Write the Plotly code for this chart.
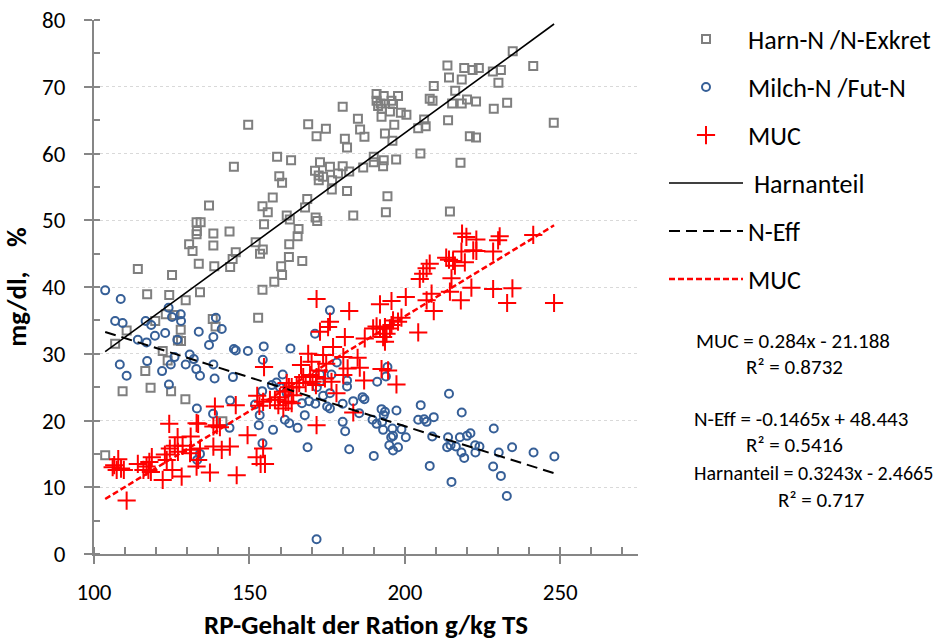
import plotly.graph_objects as go

# ---------------- data ----------------
harn_x = [103.6,106.8,110.5,109.2,114.1,116.5,117.1,118.2,119.7,122.1,
          123.1,123.7,124.2,124.8,125.1,125.9,127.0,128.0,127.9,129.5,
          129.4,130.6,131.7,133.0,134.3,133.1,133.0,133.7,134.1,137.0,
          138.2,139.1,138.4,138.4,138.7,141.3,143.6,143.8,144.6,145.0,
          145.6,149.6,152.0,152.8,153.4,154.3,154.2,154.2,154.7,155.9,
          157.5,158.0,158.9,159.6,160.2,160.5,160.5,162.0,162.8,162.7,
          163.0,163.4,165.5,165.8,167.0,167.9,168.6,168.9,171.1,171.6,
          171.3,171.8,172.3,172.7,173.7,174.6,172.3,176.6,175.9,176.5,
          178.5,180.0,180.0,180.7,181.4,181.4,182.1,183.4,184.9,185.6,
          186.6,187.0,190.0,190.0,190.9,190.9,191.4,192.2,192.6,192.5,
          193.2,193.2,193.0,193.6,193.9,194.4,195.2,195.7,196.2,196.0,
          196.6,197.2,197.8,198.7,200.5,204.3,205.0,206.2,206.7,208.0,
          208.9,209.3,213.7,213.9,214.2,214.5,215.2,216.2,217.9,218.3,
          218.3,219.1,220.0,220.9,221.8,222.9,222.9,223.8,228.3,228.6,
          230.1,230.9,232.9,234.7,241.3,247.9]
harn_y = [14.8,31.5,33.5,24.4,42.7,27.4,38.9,24.9,34.9,30.4,
          35.9,29.0,38.8,24.4,41.8,35.8,32.0,31.9,33.6,38.0,
          23.2,46.4,45.4,49.7,49.7,48.4,47.9,43.5,39.2,52.2,
          35.2,34.1,48.0,46.2,43.1,19.9,48.3,43.0,44.2,58.0,
          45.2,64.3,46.7,35.4,45.0,45.6,52.1,39.6,49.4,51.2,
          53.4,40.8,59.5,56.6,43.1,55.6,41.8,50.7,46.4,44.5,
          50.1,59.0,47.6,48.7,43.9,51.9,53.2,64.4,57.4,62.6,
          50.4,49.9,56.7,58.7,56.5,63.7,56.0,56.0,58.0,54.6,
          57.0,67.0,58.1,62.2,60.9,54.4,57.3,50.7,65.2,63.6,
          57.9,62.5,59.5,58.7,68.9,67.9,67.1,67.5,66.7,65.5,
          68.6,59.0,58.1,63.0,51.2,53.6,66.3,67.9,67.4,61.9,
          64.3,59.1,68.6,66.1,65.8,63.8,60.0,65.1,64.1,68.2,
          67.9,70.1,73.2,65.0,71.4,51.3,67.5,69.4,58.6,71.1,
          67.5,72.8,68.1,62.6,72.5,67.8,62.4,72.8,72.3,66.7,
          70.6,72.5,67.6,75.3,73.1,64.6]

milch_x = [103.6,108.6,106.8,109.2,116.6,118.4,124.0,125.1,127.9,128.0,
           122.9,119.6,114.1,116.9,126.8,133.7,137.0,138.4,139.2,141.1,
           145.0,145.6,149.5,154.6,163.2,130.8,132.1,125.9,124.7,108.3,
           110.5,117.1,121.9,129.5,132.9,134.1,138.4,138.8,144.7,154.3,
           124.1,133.1,138.3,143.8,143.6,153.0,153.3,157.6,154.2,134.1,
           133.2,168.7,151.8,154.1,157.2,158.7,160.7,159.8,162.0,161.4,
           162.8,165.5,167.8,166.9,169.2,171.2,173.7,175.0,171.7,171.1,
           175.9,172.7,171.6,178.1,176.4,181.4,181.4,175.9,175.9,180.0,
           183.4,186.4,187.0,185.3,180.0,180.8,182.1,191.1,193.9,194.4,
           192.5,193.6,193.2,197.3,189.6,190.9,192.7,193.0,196.0,196.2,
           195.6,198.9,200.3,195.0,196.2,197.8,190.0,205.1,204.3,206.2,
           207.0,209.3,208.8,208.0,214.2,218.3,213.9,213.6,214.7,216.4,
           217.7,220.0,221.1,218.2,219.1,222.6,224.0,222.7,215.0,228.6,
           230.2,234.5,228.4,230.9,232.8,241.4,248.1,172.7]
milch_y = [39.5,38.2,34.9,34.6,34.9,34.3,36.9,35.5,35.9,34.9,
           33.1,32.7,32.1,31.7,32.1,33.3,31.3,32.5,35.4,33.7,
           30.7,30.5,30.4,31.1,30.8,29.9,29.2,29.5,28.4,28.4,
           26.7,28.9,27.4,28.4,27.7,26.7,28.4,26.3,26.5,29.1,
           25.4,21.8,21.0,23.0,18.9,19.3,20.8,18.6,16.6,15.0,
           14.1,16.0,22.4,24.4,25.3,25.7,26.9,25.0,24.1,20.1,
           19.6,18.9,20.8,22.6,22.9,22.5,23.7,22.1,25.0,33.0,
           36.5,26.9,2.2,28.7,26.9,26.0,25.1,24.1,21.8,22.5,
           22.9,23.5,23.2,21.1,19.8,18.4,15.7,25.8,26.6,28.0,
           21.7,21.3,20.8,21.5,20.1,19.5,19.8,18.6,18.8,17.7,
           17.5,18.7,17.5,16.3,15.5,16.0,14.7,22.3,20.1,20.2,
           19.8,20.5,17.6,13.2,24.0,21.2,17.5,16.0,16.3,16.1,
           17.5,17.7,18.1,15.2,14.4,16.3,16.1,15.2,10.8,18.8,
           15.2,16.0,13.1,11.7,8.7,15.2,14.6,25.8]

muc_x = [106.0,106.5,107.8,107.3,109.6,108.7,110.5,114.1,116.9,118.6,
         117.8,115.9,117.5,118.3,122.1,124.2,126.9,126.0,128.5,131.1,
         133.0,133.5,131.2,134.1,124.4,127.0,130.9,122.8,123.4,125.2,
         128.2,133.0,133.5,137.3,138.9,139.5,138.4,140.5,138.4,141.1,
         143.7,145.6,145.9,149.4,152.5,153.2,154.4,154.7,152.3,153.6,
         154.4,155.0,158.2,159.8,161.4,161.7,159.3,160.9,162.7,164.1,
         165.2,166.0,167.3,166.6,168.9,168.1,169.5,170.3,170.0,172.3,
         171.4,172.7,173.7,175.3,171.6,171.6,175.9,174.7,171.6,174.3,
         156.6,162.5,163.6,163.6,162.0,176.9,180.7,182.1,187.1,180.2,
         184.8,181.6,185.5,186.9,180.2,178.0,176.4,192.5,194.6,197.3,
         183.4,189.8,190.9,192.0,193.6,195.2,195.7,196.2,197.8,198.9,
         194.1,193.0,193.6,192.0,195.7,200.3,204.3,204.8,205.9,207.0,
         208.0,208.6,207.0,209.3,213.3,214.2,215.5,216.1,215.0,214.5,
         218.0,221.4,218.4,219.8,223.0,222.0,223.0,218.2,219.3,228.4,
         230.5,230.0,241.3,228.4,234.6,232.9,248.0]
muc_y = [13.0,13.3,14.2,12.6,12.6,12.8,8.0,13.5,13.1,14.5,
         13.8,12.6,12.6,12.3,11.1,19.5,17.5,16.2,16.2,17.6,
         19.6,19.5,15.6,15.8,15.8,15.3,15.1,14.9,14.1,12.6,
         11.6,13.1,14.1,12.2,22.1,19.3,19.1,19.0,16.1,15.6,
         16.1,22.3,11.8,17.8,23.7,22.2,22.8,28.0,14.5,13.5,
         15.8,13.5,23.1,23.5,24.3,22.8,22.3,21.8,25.0,23.8,
         25.0,25.6,26.5,28.3,30.0,25.6,26.8,25.8,28.8,27.5,
         25.3,33.3,29.8,34.0,19.3,38.2,34.8,28.5,26.5,26.3,
         23.1,22.8,22.6,25.0,25.6,31.0,32.5,36.4,32.3,29.5,
         29.4,27.8,27.9,26.0,26.8,24.1,25.8,27.7,27.5,25.4,
         21.2,33.8,34.1,33.8,34.0,33.8,34.3,35.0,34.8,35.4,
         33.0,32.5,31.8,37.4,37.9,38.5,33.2,41.2,42.0,42.8,
         43.5,39.0,38.0,36.4,44.4,44.1,43.9,43.2,41.3,39.3,
         38.0,39.9,48.0,47.5,47.1,45.5,45.4,45.3,43.7,45.3,
         47.6,47.0,47.8,39.7,39.8,37.6,37.6]

# trendline x-extent and coefficients (slope, intercept)
fit_x = [103.6, 248.0]
harnanteil_fit = (0.340, -4.92)
neff_fit = (-0.1465, 48.443)
muc_fit = (0.284, -21.188)

legend_names = ["Harn-N /N-Exkret", "Milch-N /Fut-N", "MUC", " Harnanteil", "N-Eff", "MUC"]
equations = [
    ("MUC = 0.284x - 21.188", "R² = 0.8732"),
    ("N-Eff = -0.1465x + 48.443", "R² = 0.5416"),
    ("Harnanteil = 0.3243x - 2.4665", "R² = 0.717"),
]

def line(coef):
    return [coef[0] * x + coef[1] for x in fit_x]

FONT = "Carlito, Lato, 'Open Sans', sans-serif"
AX = "#868686"

fig = go.Figure()
fig.add_trace(go.Scatter(x=harn_x, y=harn_y, mode="markers", name=legend_names[0], legendgroup="a",
                         marker=dict(symbol="square-open", size=8, color="#7f7f7f",
                                     line=dict(width=2, color="#7f7f7f"))))
fig.add_trace(go.Scatter(x=milch_x, y=milch_y, mode="markers", name=legend_names[1], legendgroup="b",
                         marker=dict(symbol="circle-open", size=8, color="#365f97",
                                     line=dict(width=2, color="#365f97"))))
fig.add_trace(go.Scatter(x=muc_x, y=muc_y, mode="markers", name=legend_names[2], legendgroup="c",
                         marker=dict(symbol="cross-thin-open", size=13, color="#ff0000",
                                     line=dict(width=2, color="#ff0000"))))
fig.add_trace(go.Scatter(x=fit_x, y=line(harnanteil_fit), mode="lines", name=legend_names[3], legendgroup="d",
                         line=dict(color="black", width=1.6)))
fig.add_trace(go.Scatter(x=fit_x, y=line(neff_fit), mode="lines", name=legend_names[4], legendgroup="e",
                         line=dict(color="black", width=2, dash="11px,6px")))
fig.add_trace(go.Scatter(x=fit_x, y=line(muc_fit), mode="lines", name=legend_names[5], legendgroup="f",
                         line=dict(color="#ff0000", width=2.5, dash="6px,3px")))

# equation labels: left edge px, center y px, font size of each text line
eq_pos = [((695, 341, 21), (745, 367, 21)),
          ((693, 419, 21), (745, 445, 21)),
          ((693, 473, 20), (777, 500, 21))]
for (t1, t2), (p1, p2) in zip(equations, eq_pos):
    for txt, (px, py, fs) in ((t1, p1), (t2, p2)):
        fig.add_annotation(x=(px - 94) / 544, y=(554 - py) / 534, xref="paper", yref="paper",
                           text=txt, showarrow=False, xanchor="left", yanchor="middle",
                           borderpad=0, font=dict(family=FONT, size=fs, color="black"))

fig.update_layout(
    width=949, height=641,
    margin=dict(l=94, r=311, t=20, b=87, autoexpand=False),
    paper_bgcolor="white", plot_bgcolor="white",
    font=dict(family=FONT, color="black"),
    legend=dict(x=1.0478, y=1.0081, xanchor="left", yanchor="top", font=dict(size=26, family=FONT),
                tracegroupgap=11.2, bgcolor="rgba(0,0,0,0)", itemwidth=74),
    xaxis=dict(range=[100, 275], tick0=100, dtick=50, ticks="outside", ticklen=8, tickwidth=2,
               tickcolor=AX, showline=True, linecolor=AX, linewidth=2, showgrid=False, zeroline=False,
               tickfont=dict(size=23), ticklabelstandoff=8, automargin=False,
               minor=dict(dtick=10, ticks="inside", ticklen=7, tickwidth=1.5, tickcolor=AX, showgrid=False),
               title=dict(text="<b>RP-Gehalt der Ration g/kg TS</b>", font=dict(size=27), standoff=18)),
    yaxis=dict(range=[0, 80], tick0=0, dtick=10, ticks="outside", ticklen=8, tickwidth=2,
               tickcolor=AX, showline=True, linecolor=AX, linewidth=2, zeroline=False,
               showgrid=True, gridcolor="#d9d9d9", griddash="dot", gridwidth=1.3,
               tickfont=dict(size=23), ticklabelstandoff=14, automargin=False,
               minor=dict(dtick=5, ticks="inside", ticklen=6, tickwidth=1.5, tickcolor=AX, showgrid=False),
               title=dict(text="<b>mg/dl, \u00a0\u00a0\u00a0%</b>", font=dict(size=27), standoff=16)),
    xaxis2=dict(overlaying="x", anchor="y", side="bottom", range=[100, 275], tick0=100, dtick=50,
                ticks="inside", ticklen=8, tickwidth=2, tickcolor=AX, showticklabels=False,
                showline=False, showgrid=False, zeroline=False),
    yaxis2=dict(overlaying="y", anchor="x", side="left", range=[0, 80], tick0=0, dtick=10,
                ticks="inside", ticklen=8, tickwidth=2, tickcolor=AX, showticklabels=False,
                showline=False, showgrid=False, zeroline=False),
)

fig.write_html("out.html")
